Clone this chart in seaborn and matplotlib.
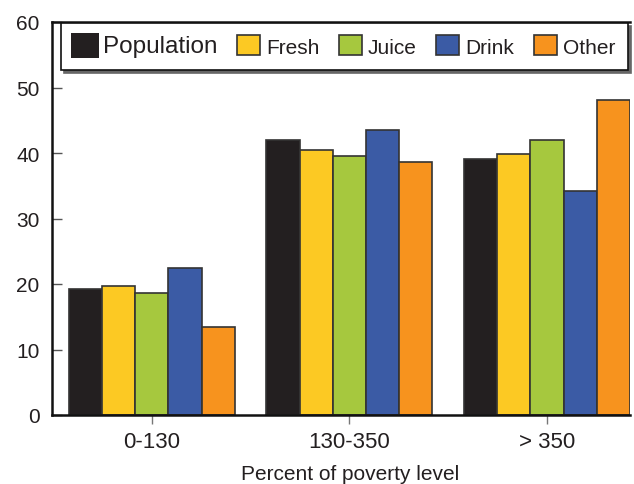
import pandas as pd
import seaborn as sns
import matplotlib.pyplot as plt
from matplotlib.patches import Rectangle
from matplotlib.legend_handler import HandlerPatch

# Data
groups = ["0-130", "130-350", "> 350"]
series = ["Population", "Fresh", "Juice", "Drink", "Other"]
population = [19.2, 42.0, 39.1]
fresh = [19.7, 40.5, 39.9]
juice = [18.7, 39.5, 42.0]
drink = [22.4, 43.5, 34.2]
other = [13.5, 38.6, 48.1]
colors = ["#231f20", "#fcc923", "#a6c83e", "#3b5ba5", "#f7931e"]

rows = []
for name, vals in zip(series, [population, fresh, juice, drink, other]):
    for g, v in zip(groups, vals):
        rows.append({"level": g, "series": name, "value": v})
df = pd.DataFrame(rows)

sns.set_style("white")
plt.rcParams["font.family"] = ["Liberation Sans", "DejaVu Sans"]

fig = plt.figure(figsize=(6.34, 4.85), dpi=100)
ax = fig.add_axes([52 / 634, 69 / 485, 578 / 634, 393 / 485])

sns.barplot(data=df, x="level", y="value", hue="series", order=groups,
            hue_order=series, palette=colors, width=0.84, saturation=1,
            edgecolor="#333333", linewidth=1.2, ax=ax)

ax.set_ylim(0, 60)
ax.set_xlim(-0.505, 2.42)
ax.set_yticks(range(0, 61, 10))
ax.set_xlabel("Percent of poverty level", fontsize=15, color="#231f20", labelpad=9)
ax.xaxis.label.set_x(0.516)
ax.set_ylabel("")
ax.tick_params(axis="x", labelsize=16, colors="#777777", length=6.5, width=1,
               labelcolor="#231f20", direction="out", pad=5, bottom=True)
ax.tick_params(axis="y", labelsize=15, colors="#555555", length=7, width=1,
               labelcolor="#231f20", direction="in", pad=9, left=True)

for side in ["left", "bottom", "top"]:
    ax.spines[side].set_color("#111111")
    ax.spines[side].set_linewidth(1.8)
ax.spines["right"].set_visible(False)


# Population key is drawn a bit bigger than the others, as in the original
class BigKey(HandlerPatch):
    def create_artists(self, legend, orig_handle, xdescent, ydescent, width, height, fontsize, trans):
        p = Rectangle((-xdescent - 2, -ydescent - 2), width + 4, height + 4,
                      facecolor=orig_handle.get_facecolor(), edgecolor="none", transform=trans)
        return [p]


handles, labels = ax.get_legend_handles_labels()
leg = ax.legend(handles, labels, ncol=5, loc="lower left",
                bbox_to_anchor=(61 / 634, 1 - 71 / 485, 567 / 634, 48 / 485),
                bbox_transform=fig.transFigure, mode="expand", borderaxespad=0,
                fontsize=15, frameon=True, fancybox=False, borderpad=0.6,
                shadow={"color": "#666666", "alpha": 1},
                handlelength=1.1, handleheight=1.1, handletextpad=0.3, columnspacing=0.6,
                handler_map={handles[0]: BigKey()})
leg.get_frame().set_edgecolor("#111111")
leg.get_frame().set_linewidth(1.2)
leg.get_texts()[0].set_fontsize(17.5)
for t in leg.get_texts():
    t.set_color("#231f20")

fig.savefig("out.png", dpi=100)
